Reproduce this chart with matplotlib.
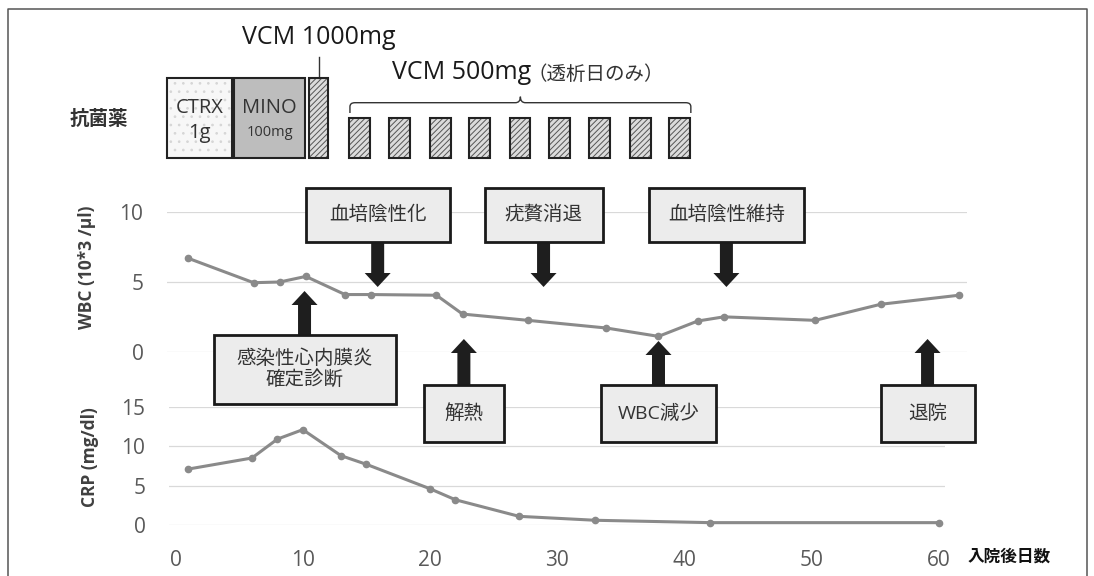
import matplotlib
matplotlib.use("Agg")
import matplotlib.pyplot as plt
from matplotlib.patches import Rectangle, Polygon, PathPatch
from matplotlib.path import Path

plt.rcParams['font.family'] = ['Open Sans', 'Noto Sans CJK JP', 'DejaVu Sans']
plt.rcParams['hatch.linewidth'] = 0.7

# ---------------- data ----------------
wbc_days = [1, 6, 8, 10, 13, 15, 20, 22, 27, 33, 37, 40, 42, 49, 54, 60]
wbc_values = [6.7, 4.95, 5.0, 5.4, 4.1, 4.1, 4.05, 2.7, 2.25, 1.7, 1.1, 2.2, 2.5, 2.25, 3.4, 4.05]
crp_days = [1, 6, 8, 10, 13, 15, 20, 22, 27, 33, 42, 60]
crp_values = [7.1, 8.5, 10.9, 12.1, 8.8, 7.7, 4.6, 3.2, 1.1, 0.6, 0.3, 0.3]

x_ticks = [0, 10, 20, 30, 40, 50, 60]
wbc_ticks = [0, 5, 10]
crp_ticks = [0, 5, 10, 15]

events_top = ["血培陰性化", "疣贅消退", "血培陰性維持"]
events_top_days = [15.5, 28.2, 42.2]
events_bottom = ["感染性心内膜炎\n確定診断", "解熱", "WBC減少", "退院"]
events_bottom_days = [9.9, 22.1, 37.0, 57.6]

regimen_names = ["CTRX", "MINO", ""]
regimen_doses = ["1g", "100mg", ""]
regimen_start = [-0.65, 4.5, 10.25]
regimen_end = [4.35, 9.95, 11.7]
vcm500_days = [14.1, 17.2, 20.3, 23.3, 26.4, 29.4, 32.5, 35.6, 38.6]

# ---------------- layout ----------------
W, H = 1094, 576
fig = plt.figure(figsize=(W / 100, H / 100), dpi=100)


def fax(l, t, r, b):
    return [l / W, 1 - b / H, (r - l) / W, (b - t) / H]


GRID = '#d9d9d9'
TICKC = '#595959'
LINEC = '#8a8a8a'

wbc_ax = fig.add_axes(fax(167, 212.3, 967, 351.7))
wbc_ax.set_xlim(-0.63, 60.62)
wbc_ax.set_ylim(0, 10)
crp_ax = fig.add_axes(fax(169, 406.8, 945, 525))
crp_ax.set_xlim(-0.52, 60.49)
crp_ax.set_ylim(0, 15)

for ax, yt in ((wbc_ax, wbc_ticks), (crp_ax, crp_ticks)):
    ax.set_facecolor('none')
    for s in ax.spines.values():
        s.set_visible(False)
    ax.set_yticks(yt)
    ax.yaxis.grid(True, color=GRID, lw=0.9)
    ax.set_axisbelow(True)
    ax.tick_params(length=0, labelsize=15, labelcolor=TICKC)
    ax.tick_params(axis='y', pad=17)

wbc_ax.set_xticks([])
crp_ax.set_xticks(x_ticks)
crp_ax.tick_params(axis='x', pad=18)

wbc_ax.plot(wbc_days, wbc_values, color=LINEC, lw=2.2, marker='o', ms=4.5, clip_on=False, zorder=3)
crp_ax.plot(crp_days, crp_values, color=LINEC, lw=2.2, marker='o', ms=4.5, clip_on=False, zorder=3)

# overlay in pixel coordinates
ov = fig.add_axes([0, 0, 1, 1], zorder=5)
ov.set_xlim(0, W)
ov.set_ylim(H, 0)
ov.axis('off')
ov.patch.set_alpha(0)


def day_px(d):
    return wbc_ax.transData.transform((d, 0))[0]


# figure frame
ov.plot([7.5, 7.5, 1086.5, 1086.5], [H + 5, 9, 9, H + 5], color='#555555', lw=1.1, clip_on=False)

# axis titles
ov.text(87, 267, "WBC (10*3 /μl)", rotation=90, ha='center', va='center',
        fontsize=12.5, weight='bold', color='#404040')
ov.text(90, 457, "CRP (mg/dl)", rotation=90, ha='center', va='center',
        fontsize=12.5, weight='bold', color='#404040')
ov.text(968, 557, "入院後日数", ha='left', va='center', fontsize=12,
        weight='bold', color='#111111', family=['Noto Sans CJK JP'])


# ---------------- event boxes and arrows ----------------
def arrow(cx, y_base, y_tip):
    shw, hhw, hl = 6.5, 13, 14
    s = 1 if y_tip > y_base else -1
    neck = y_tip - s * hl
    pts = [(cx - shw, y_base), (cx - shw, neck), (cx - hhw, neck), (cx, y_tip),
           (cx + hhw, neck), (cx + shw, neck), (cx + shw, y_base)]
    ov.add_patch(Polygon(pts, closed=True, fc='#1e1e1e', ec='none', zorder=4))


def ebox(cx, w, top, bot, label):
    ov.add_patch(Rectangle((cx - w / 2, top), w, bot - top, fc='#ececec',
                           ec='#1a1a1a', lw=2.0, zorder=5))
    ov.text(cx, (top + bot) / 2, label, ha='center', va='center', fontsize=14,
            color='#333333', zorder=6, linespacing=1.15)


top_w = [144, 118, 155]
for lab, d, w in zip(events_top, events_top_days, top_w):
    cx = day_px(d)
    ebox(cx, w, 188, 242, lab)
    arrow(cx, 242, 287)

bot_w = [182, 80, 115, 94]
bot_top = [335, 385, 385, 385]
bot_bot = [404, 442, 442, 442]
bot_tip = [291, 339, 341, 339]
for lab, d, w, t, b, tip in zip(events_bottom, events_bottom_days, bot_w, bot_top, bot_bot, bot_tip):
    cx = day_px(d)
    arrow(cx, t, tip)
    ebox(cx, w, t, b, lab)

# ---------------- antibiotics schematic ----------------
ov.text(99, 119, "抗菌薬", ha='center', va='center', fontsize=14, weight='bold',
        color='#333333', family=['Noto Sans CJK JP'])

big_top, big_bot = 78.3, 157.7
fills = ['#f7f7f7', '#bdbdbd', '#dcdcdc']
hatches = ['..', None, '//////']
hcols = ['#d6d6d6', None, '#555555']
for i, (nm, dose, s, e) in enumerate(zip(regimen_names, regimen_doses, regimen_start, regimen_end)):
    x0, x1 = day_px(s), day_px(e)
    ov.add_patch(Rectangle((x0, big_top), x1 - x0, big_bot - big_top, fc=fills[i], ec='none', zorder=2))
    if hatches[i]:
        ov.add_patch(Rectangle((x0, big_top), x1 - x0, big_bot - big_top, fc='none',
                               ec=hcols[i], lw=0, hatch=hatches[i], zorder=3))
    ov.add_patch(Rectangle((x0, big_top), x1 - x0, big_bot - big_top, fc='none',
                           ec='#222222', lw=1.5, zorder=4))
    cx = (x0 + x1) / 2
    if nm:
        ov.text(cx, 108, nm, ha='center', va='center', fontsize=14.5, color='#333333', zorder=5)
    if dose:
        ov.text(cx, 133, dose, ha='center', va='center',
                fontsize=14.5 if dose == '1g' else 10.5, color='#333333', zorder=5)

# VCM 1000mg label
vcm_cx = day_px((regimen_start[2] + regimen_end[2]) / 2)
ov.plot([vcm_cx, vcm_cx], [56.7, big_top], color='#333333', lw=1.0)
ov.text(vcm_cx, 44.5, "VCM 1000mg", ha='center', va='baseline', fontsize=18, color='#1a1a1a')

# VCM 500 doses
sm_top, sm_bot = 117.7, 157.7
dose_w = 1.6
lefts = []
rights = []
for d in vcm500_days:
    x0, x1 = day_px(d - dose_w / 2), day_px(d + dose_w / 2)
    lefts.append(x0)
    rights.append(x1)
    ov.add_patch(Rectangle((x0, sm_top), x1 - x0, sm_bot - sm_top, fc='#dcdcdc', ec='none', zorder=2))
    ov.add_patch(Rectangle((x0, sm_top), x1 - x0, sm_bot - sm_top, fc='none', ec='#555555',
                           lw=0, hatch='//////', zorder=3))
    ov.add_patch(Rectangle((x0, sm_top), x1 - x0, sm_bot - sm_top, fc='none', ec='#222222',
                           lw=1.5, zorder=4))

# bracket
L, R = lefts[0] + 1, rights[-1] + 1
C = (L + R) / 2
yb = 102.7
verts = [(L, 113), (L, yb + 4), (L, yb), (L + 5, yb), (C - 5, yb), (C, yb), (C, yb - 6),
         (C, yb - 6), (C, yb), (C + 5, yb), (R - 5, yb), (R, yb), (R, yb + 4), (R, 113)]
codes = [Path.MOVETO, Path.LINETO, Path.CURVE3, Path.CURVE3, Path.LINETO, Path.CURVE3, Path.CURVE3,
         Path.MOVETO, Path.CURVE3, Path.CURVE3, Path.LINETO, Path.CURVE3, Path.CURVE3, Path.LINETO]
ov.add_patch(PathPatch(Path(verts, codes), fc='none', ec='#333333', lw=1.0))

t1 = ov.text(392, 79, "VCM 500mg", ha='left', va='baseline', fontsize=18, color='#1a1a1a')
ov.annotate("（透析日のみ）", xy=(1, 0), xycoords=t1, xytext=(-3, 0), textcoords='offset points',
            ha='left', va='bottom', fontsize=14, color='#333333', family=['Noto Sans CJK JP'])

fig.savefig("out.png", dpi=100)
